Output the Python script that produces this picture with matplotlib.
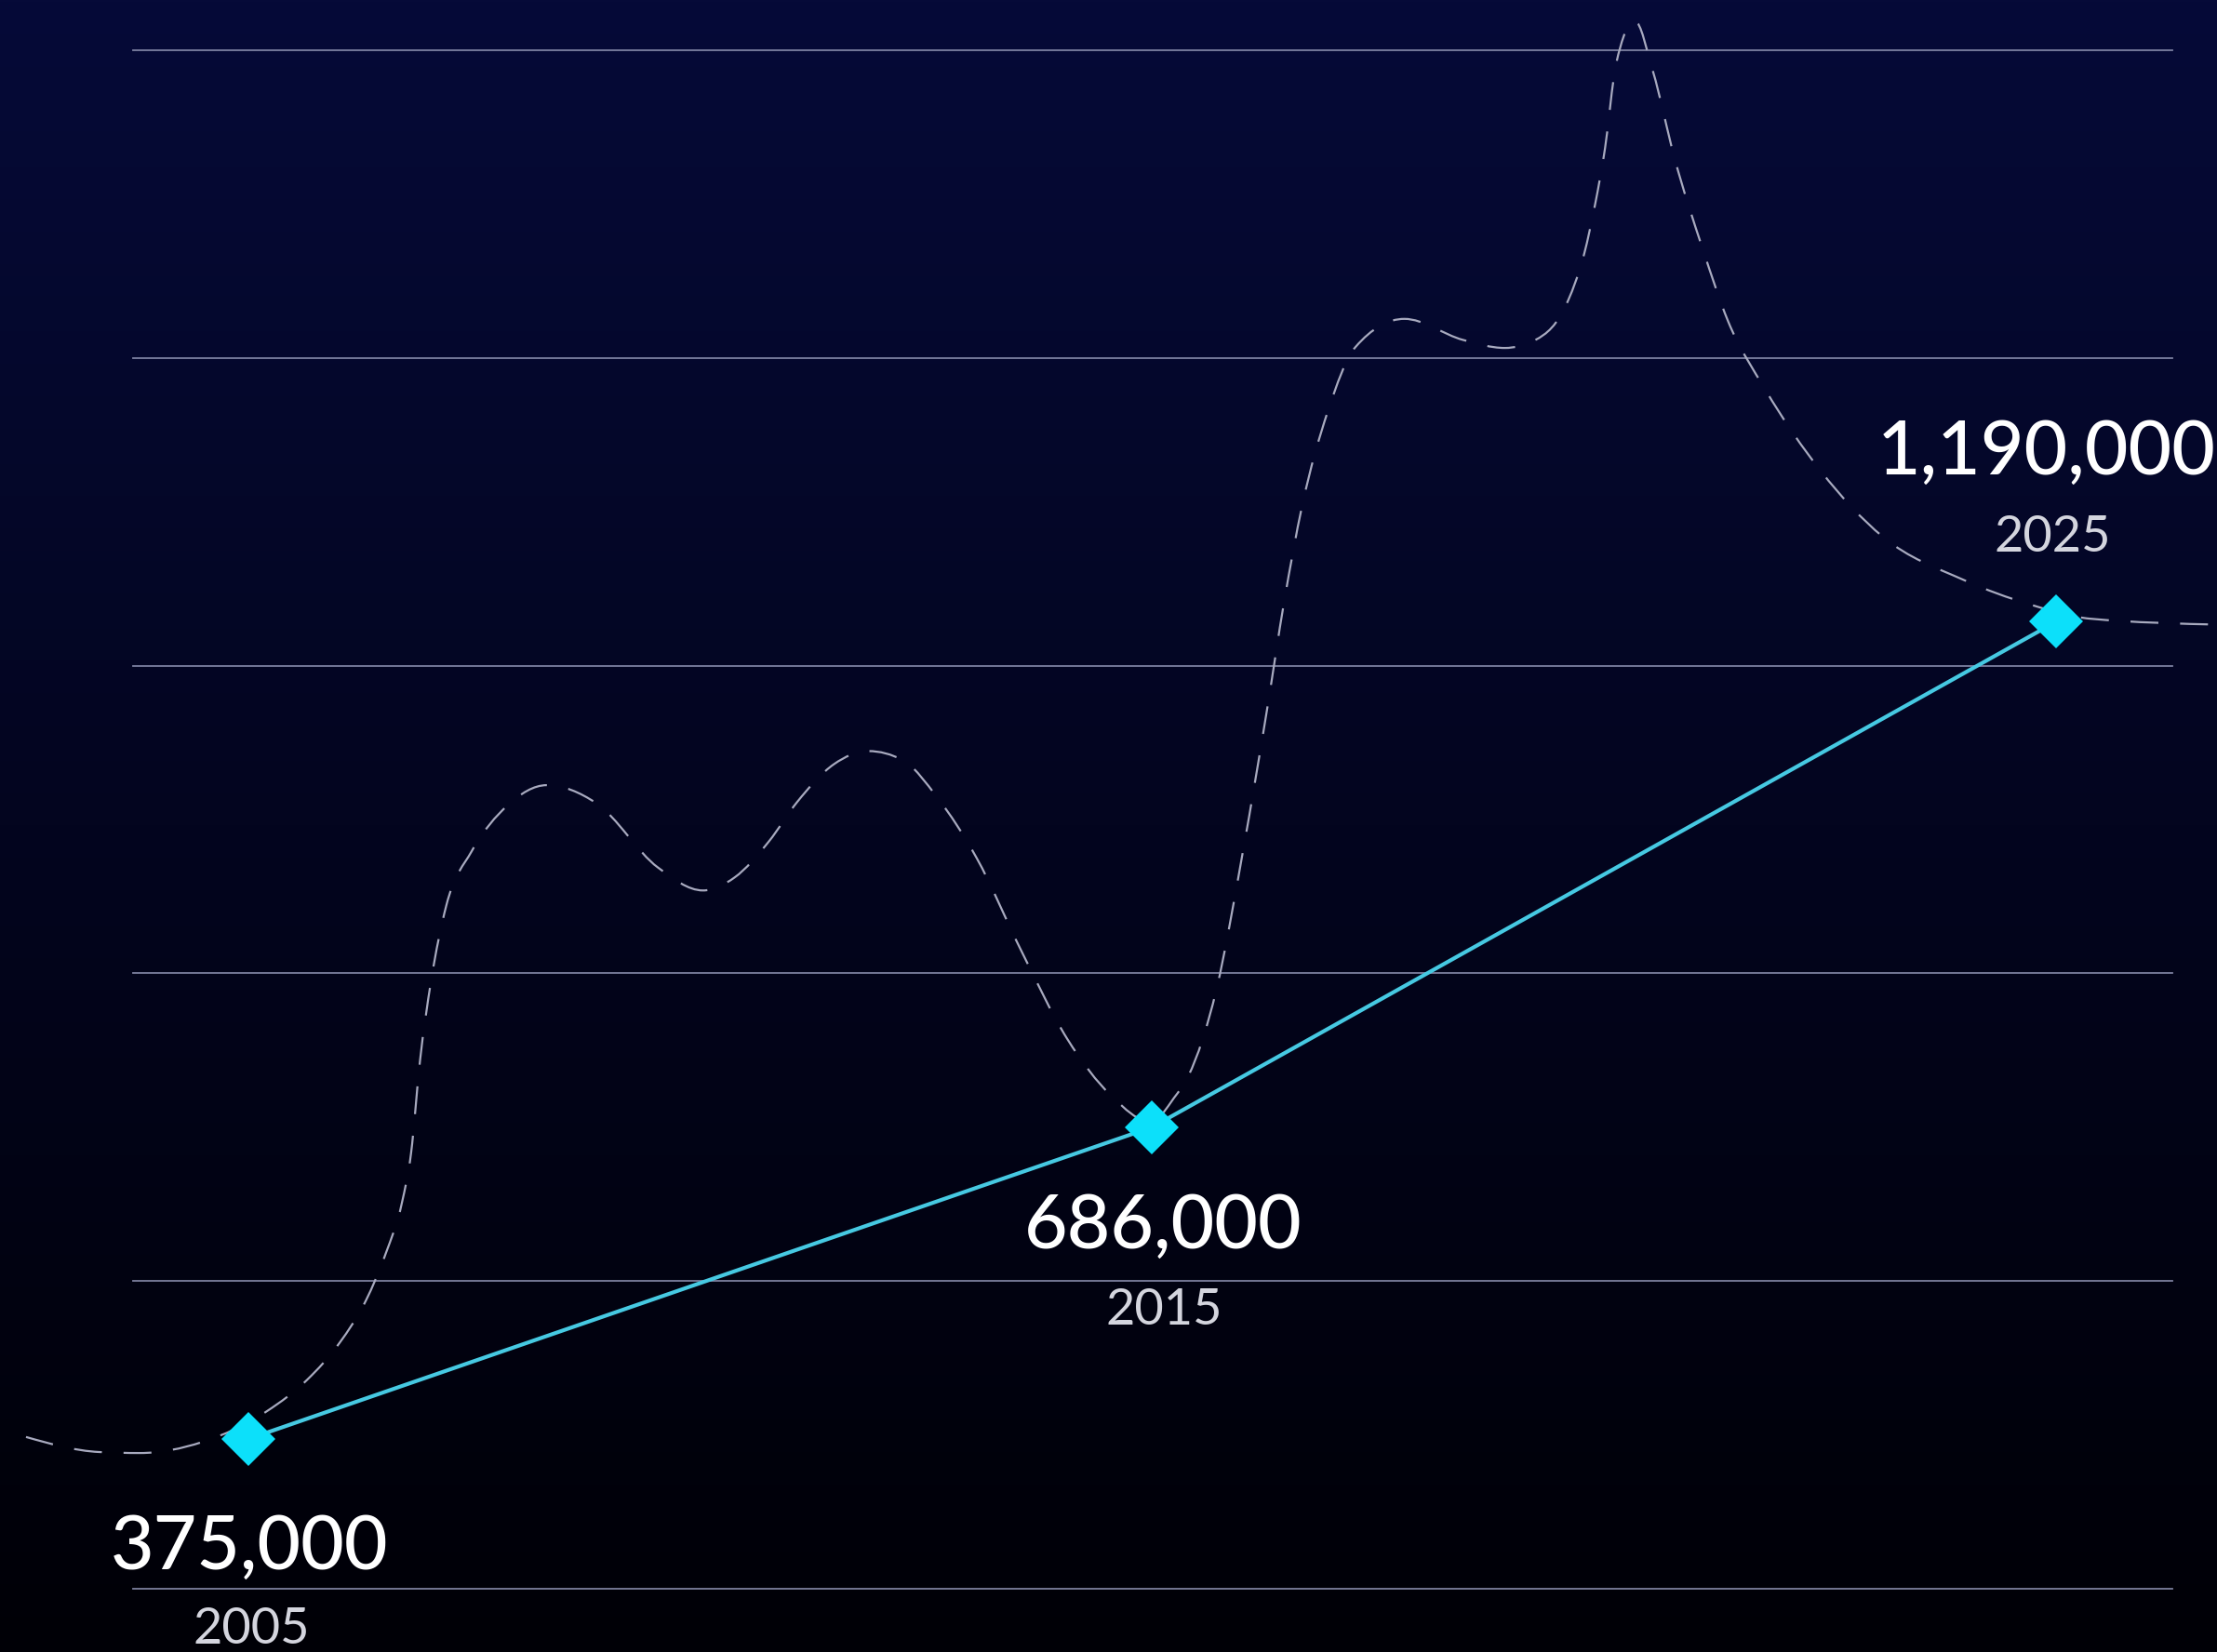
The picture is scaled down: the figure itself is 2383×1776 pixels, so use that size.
import numpy as np
import matplotlib
matplotlib.use("Agg")
import matplotlib.pyplot as plt
from matplotlib.path import Path
from matplotlib.patches import PathPatch

# Headline figures
years = [2005, 2015, 2025]
values = [375_000, 686_000, 1_190_000]
value_labels = ["375,000", "686,000", "1,190,000"]
year_labels = ["2005", "2015", "2025"]

# Background trend drawn as a dashed curve
trend_years = [
    2002.54, 2003.35, 2003.80, 2004.49, 2005.21, 2005.65, 2006.01, 2006.30,
    2006.52, 2006.70, 2006.80, 2006.90, 2007.02, 2007.19, 2007.47, 2007.87,
    2008.30, 2008.85, 2009.53, 2010.03, 2010.38, 2010.76, 2011.07, 2011.48,
    2011.86, 2012.24, 2012.62, 2013.06, 2013.54, 2014.06, 2014.55, 2014.99,
    2015.24, 2015.40, 2015.71, 2016.01, 2016.27, 2016.46, 2016.66, 2016.94,
    2017.25, 2017.79, 2018.44, 2018.90, 2019.24, 2019.60, 2019.78, 2019.90,
    2020.01, 2020.13, 2020.34, 2020.54, 2020.78, 2021.09, 2021.37, 2021.78,
    2022.40, 2023.08, 2023.97, 2024.72, 2025.38, 2026.85,
]
trend_values = [
    377_000, 362_000, 361_000, 372_000, 403_000, 434_000, 471_000, 513_000,
    560_000, 611_000, 660_000, 753_000, 831_000, 907_000, 961_000, 1_007_000,
    1_027_000, 1_009_000, 945_000, 922_000, 935_000, 971_000, 1_010_000, 1_048_000,
    1_061_000, 1_052_000, 1_015_000, 954_000, 864_000, 774_000, 717_000, 691_000,
    715_000, 737_000, 823_000, 964_000, 1_102_000, 1_210_000, 1_306_000, 1_399_000,
    1_464_000, 1_492_000, 1_471_000, 1_463_000, 1_471_000, 1_510_000, 1_557_000, 1_606_000,
    1_662_000, 1_745_000, 1_789_000, 1_739_000, 1_652_000, 1_562_000, 1_490_000, 1_422_000,
    1_340_000, 1_275_000, 1_232_000, 1_207_000, 1_193_000, 1_187_000,
]

Y_RANGE = (225_650, 1_759_900)
X_RANGE = (2003.724, 2026.287)
N_GRID = 6


def monotone_bezier(x, y):
    """Monotone cubic curve through the points, expressed as a Bezier path."""
    x = np.asarray(x, float)
    y = np.asarray(y, float)
    h = np.diff(x)
    s = np.diff(y) / h
    m = np.zeros_like(x)
    for i in range(1, len(x) - 1):
        s0, s1 = s[i - 1], s[i]
        p = (s0 * h[i] + s1 * h[i - 1]) / (h[i - 1] + h[i])
        m[i] = (np.sign(s0) + np.sign(s1)) * min(abs(s0), abs(s1), 0.5 * abs(p))
    m[0] = (3 * s[0] - m[1]) / 2
    m[-1] = (3 * s[-1] - m[-2]) / 2
    verts = [(x[0], y[0])]
    codes = [Path.MOVETO]
    for i in range(len(x) - 1):
        d = h[i] / 3
        verts += [(x[i] + d, y[i] + m[i] * d),
                  (x[i + 1] - d, y[i + 1] - m[i + 1] * d),
                  (x[i + 1], y[i + 1])]
        codes += [Path.CURVE4] * 3
    return Path(verts, codes)


fig = plt.figure(figsize=(23.83, 17.76), dpi=100)

# Vertical navy-to-black backdrop
bg = fig.add_axes([0, 0, 1, 1], zorder=-10)
top = np.array([6, 10, 56]) / 255
bottom = np.array([0, 0, 6]) / 255
t = np.linspace(0, 1, 512)[:, None, None]
grad = top * (1 - t) + bottom * t
bg.imshow(grad, aspect="auto", extent=(0, 1, 0, 1))
bg.set_axis_off()

ax = fig.add_axes([143 / 2383, 1 - 1708 / 1776, (2335 - 143) / 2383, (1708 - 54) / 1776])
ax.set_facecolor("none")
ax.set_xlim(*X_RANGE)
ax.set_ylim(*Y_RANGE)
for sp in ax.spines.values():
    sp.set_visible(False)
ax.set_xticks([])
ax.set_yticks(np.linspace(*Y_RANGE, N_GRID))
ax.tick_params(axis="y", length=0, labelleft=False)
ax.yaxis.grid(True, color="#8a8eae", linewidth=1.3, alpha=0.9)
for gl in ax.yaxis.get_gridlines():
    gl.set_clip_on(False)
ax.set_axisbelow(True)

# Dashed trend curve
trend = PathPatch(monotone_bezier(trend_years, trend_values), fill=False,
                  edgecolor="#a8aabf", linewidth=1.6, linestyle=(0, (13.5, 10.5)),
                  clip_on=False, zorder=2, capstyle="butt")
ax.add_patch(trend)

# Headline line and markers
ax.plot(years, values, color="#46c9e2", linewidth=3.0, zorder=3, clip_on=False)
ax.plot(years, values, linestyle="none", marker="D", markersize=30,
        markerfacecolor="#0ce0fa", markeredgewidth=0, zorder=4, clip_on=False)

value_offsets = [(1, -140), (12, -130), (-10, 159)]
year_offsets = [(3, -220), (13, -212), (-4, 75)]
for yr, val, vlab, ylab, vo, yo in zip(years, values, value_labels, year_labels,
                                       value_offsets, year_offsets):
    ax.annotate(vlab, xy=(yr, val), xytext=vo, textcoords="offset pixels",
                ha="center", va="baseline", fontsize=58, color="white",
                family="Lato", fontweight="medium", annotation_clip=False, zorder=5)
    ax.annotate(ylab, xy=(yr, val), xytext=yo, textcoords="offset pixels",
                ha="center", va="baseline", fontsize=39, color="#d4d5de",
                family="Lato", fontweight="normal", annotation_clip=False, zorder=5)

fig.savefig("out.png", dpi=100)
